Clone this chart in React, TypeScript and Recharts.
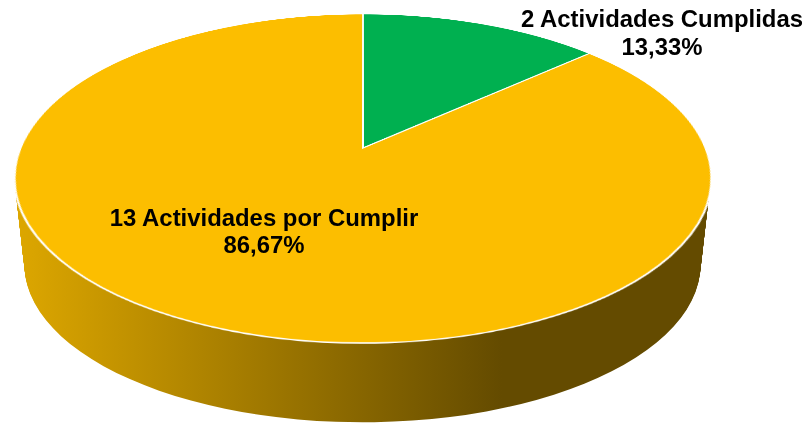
import { PieChart, Pie, Cell } from 'recharts';

/* ── Data ── */
const sliceNames = ['2 Actividades Cumplidas', '13 Actividades por Cumplir'];
const sliceValues = [2, 13];
const percentLabels = ['13,33%', '86,67%'];
const sliceColors = ['#00B050', '#FCBE00'];

const slices = sliceNames.map((name, i) => ({ name, value: sliceValues[i], percent: percentLabels[i] }));

/* ── Layout ── */
const W = 809;
const H = 423;
const FONT = '"Liberation Sans", Arial, sans-serif';

// top face: a circle pushed through a perspective matrix so the centre sits above the ellipse centre
const R = 340;
const BOX = 760;
const APEX = { x: 363, y: 148 };
const FACE_MATRIX = `matrix3d(${342.4 / R},0,0,0, 0,${158.85 / R},0,${-0.1854 / R}, 0,0,1,0, 0,0,0,1)`;

// side wall: stacked circles in a squashed chart, y is in page px
const SQUASH = 0.4655;
const WALL_STEPS = Array.from({ length: 88 }, (_, i) => i);
const wallY = (i: number) => 178 + i;
const wallR = (i: number) => 348 - (i / 87) * 10;

const labelSpots = [
  { x: 662, y1: 27, y2: 55 },
  { x: 264, y1: 226, y2: 253 },
];

const renderLabel = ({ index }: any) => {
  const s = labelSpots[index];
  return (
    <text key={index} textAnchor="middle" fontFamily={FONT} fontWeight="bold" fontSize={23.9} fill="#000">
      <tspan x={s.x} y={s.y1}>{slices[index].name}</tspan>
      <tspan x={s.x} y={s.y2}>{slices[index].percent}</tspan>
    </text>
  );
};

export default function App() {
  return (
    <div style={{ position: 'absolute', left: 0, top: 0, width: W, height: H, overflow: 'hidden', background: '#fff' }}>
      {/* side wall */}
      <div style={{ position: 'absolute', left: 0, top: 0, transform: `scaleY(${SQUASH})`, transformOrigin: '0 0' }}>
        <PieChart width={W} height={H / SQUASH} margin={{ top: 0, right: 0, bottom: 0, left: 0 }}>
          <defs>
            <linearGradient id="wall" gradientUnits="userSpaceOnUse" x1={16} y1={0} x2={710} y2={0}>
              <stop offset="0%" stopColor="#DDA700" />
              <stop offset="70%" stopColor="#644B00" />
              <stop offset="100%" stopColor="#644B00" />
            </linearGradient>
          </defs>
          {WALL_STEPS.map((i) => (
            <Pie
              key={i}
              data={slices}
              dataKey="value"
              cx={362.5}
              cy={wallY(i) / SQUASH}
              outerRadius={wallR(i)}
              startAngle={90}
              endAngle={-270}
              fill="url(#wall)"
              stroke="none"
              isAnimationActive={false}
            />
          ))}
        </PieChart>
      </div>

      {/* top face */}
      <div
        style={{
          position: 'absolute',
          left: APEX.x - BOX / 2,
          top: APEX.y - BOX / 2,
          transform: FACE_MATRIX,
          transformOrigin: `${BOX / 2}px ${BOX / 2}px`,
        }}
      >
        <PieChart width={BOX} height={BOX} margin={{ top: 0, right: 0, bottom: 0, left: 0 }}>
          <Pie
            data={slices}
            dataKey="value"
            cx={BOX / 2}
            cy={BOX / 2}
            outerRadius={R}
            startAngle={90}
            endAngle={-270}
            stroke="#fff"
            strokeWidth={2}
            isAnimationActive={false}
          >
            {slices.map((_, i) => (
              <Cell key={i} fill={sliceColors[i]} />
            ))}
          </Pie>
        </PieChart>
      </div>

      {/* labels, undistorted */}
      <div style={{ position: 'absolute', left: 0, top: 0 }}>
        <PieChart width={W} height={H} margin={{ top: 0, right: 0, bottom: 0, left: 0 }}>
          <Pie
            data={slices}
            dataKey="value"
            cx={APEX.x}
            cy={APEX.y}
            outerRadius={100}
            fill="none"
            stroke="none"
            label={renderLabel}
            labelLine={false}
            isAnimationActive={false}
          />
        </PieChart>
      </div>
    </div>
  );
}
